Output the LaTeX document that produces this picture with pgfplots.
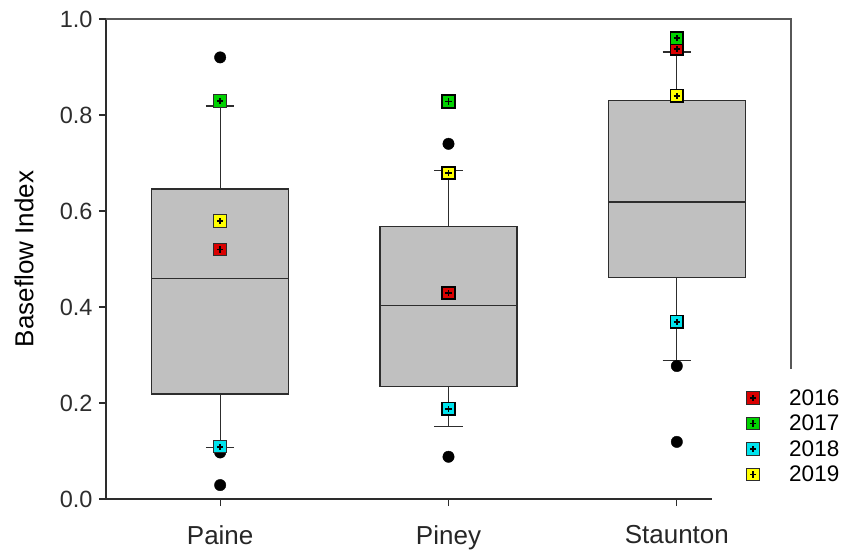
\documentclass[border=0pt]{standalone}
\usepackage{pgfplots}
\pgfplotsset{compat=1.18}
\usepgfplotslibrary{statistics}
\usepackage{fontspec}
\setmainfont{Liberation Sans}
\definecolor{axcol}{RGB}{45,45,45}
\definecolor{boxfill}{RGB}{192,192,192}
\definecolor{c16}{RGB}{218,0,0}
\definecolor{c17}{RGB}{0,210,0}
\definecolor{c18}{RGB}{0,228,238}
\definecolor{c19}{RGB}{255,255,0}
\pgfdeclareplotmark{sqplus}{%
  \pgfpathrectangle{\pgfpoint{-\pgfplotmarksize}{-\pgfplotmarksize}}{\pgfpoint{2\pgfplotmarksize}{2\pgfplotmarksize}}%
  \pgfusepathqfillstroke
  \pgfsetstrokecolor{black}\pgfsetlinewidth{1.8pt}%
  \pgfpathmoveto{\pgfpoint{-0.5\pgfplotmarksize}{0pt}}\pgfpathlineto{\pgfpoint{0.5\pgfplotmarksize}{0pt}}%
  \pgfpathmoveto{\pgfpoint{0pt}{-0.5\pgfplotmarksize}}\pgfpathlineto{\pgfpoint{0pt}{0.5\pgfplotmarksize}}%
  \pgfusepathqstroke
}
\pgfplotsset{
  yr/.style={only marks, mark=sqplus, mark size=6.3pt,
    mark options={fill=#1, draw=axcol, line width=1pt},
    legend image code/.code={\draw[##1] plot coordinates {(0pt,0pt)}; \path[draw=none,fill=none] (0pt,0pt) rectangle (34pt,0.1pt);}},
  bx/.style={boxplot/draw direction=y, fill=boxfill, draw=axcol, line width=1.3pt, forget plot,
    boxplot/every whisker/.style={draw=axcol, line width=1.3pt}},
}
\begin{document}
\begin{tikzpicture}
\useasboundingbox (-106pt,-51pt) rectangle (738pt,499pt);
\begin{axis}[
  scale only axis, width=685pt, height=480pt,
  xmin=0.5, xmax=3.5, ymin=0, ymax=1,
  clip=false,
  axis lines*=left,
  x axis line style={draw=none},
  y axis line style={draw=axcol, line width=1.3pt},
  tick align=outside,
  major tick length=7pt,
  tick style={draw=axcol, line width=1.3pt},
  xtick={1,2,3}, xticklabels={Paine,Piney,Staunton},
  ytick={0,0.2,0.4,0.6,0.8,1.0},
  minor tick num=0,
  /pgf/number format/assume math mode=true,
  yticklabel style={font=\fontsize{23.5}{28}\selectfont, text=axcol, xshift=-3pt,
     /pgf/number format/fixed, /pgf/number format/fixed zerofill, /pgf/number format/precision=1},
  xticklabel style={font=\fontsize{26}{30}\selectfont, text=black!85, yshift=-16pt},
  ylabel={Baseflow Index},
  ylabel style={font=\fontsize{26}{30}\selectfont, at={(axis description cs:-0.1197,0.5)}, anchor=center},
  boxplot/box extend=0.6,
  boxplot/whisker extend=0.125,
  legend style={at={(axis description cs:0.931,0.237)}, anchor=north west, draw=none, fill=none,
     font=\fontsize{22.5}{26}\selectfont, row sep=4.3pt},
  legend cell align=left,
]
\addplot[bx, boxplot prepared={draw position=1, lower whisker=0.108, lower quartile=0.219, median=0.460, upper quartile=0.646, upper whisker=0.819}] coordinates {};
\addplot[bx, boxplot prepared={draw position=2, lower whisker=0.151, lower quartile=0.234, median=0.403, upper quartile=0.567, upper whisker=0.685}] coordinates {};
\addplot[bx, boxplot prepared={draw position=3, lower whisker=0.288, lower quartile=0.462, median=0.619, upper quartile=0.830, upper whisker=0.931}] coordinates {};
% outliers
\addplot[only marks, mark=*, mark size=5.7pt, black, forget plot] coordinates {
  (1,0.92) (1,0.097) (1,0.029)
  (2,0.740) (2,0.088)
  (3,0.277) (3,0.119)
};
% yearly values
\addplot[yr=c16] coordinates {(1,0.52) (2,0.429) (3,0.938)};
\addlegendentry{2016}
\addplot[yr=c17] coordinates {(1,0.829) (2,0.828) (3,0.960)};
\addlegendentry{2017}
\addplot[yr=c18] coordinates {(1,0.109) (2,0.188) (3,0.369)};
\addlegendentry{2018}
\addplot[yr=c19] coordinates {(1,0.579) (2,0.679) (3,0.840)};
\addlegendentry{2019}
% frame pieces
\draw[axcol, line width=1.3pt] (axis cs:0.5,0) -- (axis cs:3.154,0);
\draw[axcol!80, line width=1.3pt] (axis cs:0.5,1) -- (axis cs:3.5,1) -- (axis cs:3.5,0.271);
\end{axis}
\end{tikzpicture}
\end{document}
